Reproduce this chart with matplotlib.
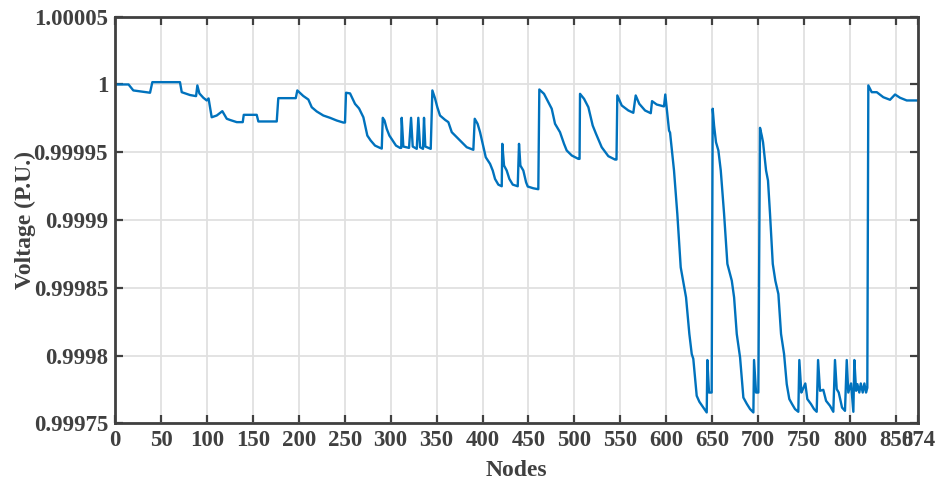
import numpy as np
import matplotlib
matplotlib.use("Agg")
from matplotlib import pyplot as plt

# node index / voltage deviation from 1.0 p.u. (in millionths)
nodes = [0, 14.7, 19.9, 38.1, 40.6, 70.7, 72.6, 81.6, 88.2, 89.6, 91.8, 96.1, 99.8, 101.8,
         105.2, 110.7, 116.8, 121.6, 125.2, 132.5, 139.0, 140.1, 154.2, 156.0, 176.0, 177.7,
         196.7, 198.4, 204.9, 210.4, 214.1, 219.5, 226.7, 234.0, 241.3, 248.5, 250.3, 251.4,
         255.8, 261.2, 265.6, 270.3, 274.6, 278.3, 283.0, 288.4, 290.3, 291.4, 293.3, 295.7,
         298.6, 302.2, 305.8, 310.2, 311.5, 312.0, 313.8, 320.0, 322.2, 324.0, 328.4, 330.1,
         332.0, 335.2, 336.3, 337.7, 343.6, 345.4, 348.3, 350.8, 353.7, 359.2, 362.8, 366.5,
         371.9, 377.4, 382.8, 390.0, 391.5, 394.6, 397.3, 400.2, 403.5, 408.2, 411.1, 413.6,
         417.2, 420.9, 421.5, 423.4, 426.3, 429.2, 432.9, 438.3, 439.7, 441.2, 444.4, 447.4,
         449.2, 455.3, 460.7, 461.8, 466.9, 471.6, 475.3, 478.9, 484.3, 488.7, 491.6, 497.1,
         504.3, 505.6, 506.1, 510.5, 515.2, 519.9, 523.5, 529.7, 536.9, 544.2, 545.8, 546.7,
         551.5, 558.7, 564.1, 566.7, 570.6, 576.9, 583.1, 584.5, 589.6, 597.5, 598.9, 603.0,
         604.1, 608.4, 612.0, 615.7, 621.5, 625.1, 627.7, 629.4, 633.1, 636.0, 641.4, 644.0,
         644.7, 646.5, 649.4, 650.5, 652.0, 654.1, 656.7, 659.3, 662.9, 666.5, 671.3, 673.8,
         676.7, 680.3, 683.9, 687.6, 691.2, 694.8, 695.5, 697.7, 700.2, 702.0, 703.9, 705.3,
         708.6, 710.7, 712.9, 715.9, 718.7, 722.0, 724.9, 728.2, 731.1, 733.9, 736.9, 740.1,
         743.7, 744.8, 747.0, 748.9, 751.3, 753.5, 757.5, 760.8, 763.7, 765.2, 767.3, 770.9,
         773.9, 778.2, 781.8, 783.6, 785.5, 787.7, 791.3, 794.5, 796.4, 798.1, 801.1, 803.6,
         804.7, 806.6, 808.0, 810.1, 811.7, 813.8, 815.6, 817.4, 818.8, 819.9, 823.6, 829.1,
         836.2, 843.5, 849.0, 854.4, 861.7, 874]
dev_ppm = [0, 0, -4.4, -6.1, 1.7, 1.7, -5.7, -7.8, -8.6, -0.7, -6.6, -9.8, -11.8, -10.3,
           -24.2, -22.9, -19.7, -25.3, -26.2, -27.8, -27.8, -22.4, -22.4, -27.3, -27.3, -10.1,
           -10.1, -4.4, -8.5, -11.1, -16.8, -19.9, -22.9, -24.6, -26.6, -28.1, -28.1, -6.1,
           -6.6, -14.3, -17.7, -24.2, -37.7, -41.4, -45.1, -46.8, -47.3, -24.6, -26.6, -32.7,
           -37.7, -41.4, -45.1, -46.8, -46.8, -24.6, -45.8, -46.8, -24.6, -45.8, -47.5, -24.6,
           -46.3, -47.5, -24.6, -45.8, -47.5, -4.4, -10.3, -16.8, -22.9, -26.1, -27.8, -35.2,
           -38.9, -42.6, -46.3, -48.2, -25.3, -29.0, -35.2, -43.8, -53.7, -58.6, -63.5, -69.7,
           -73.9, -75.1, -43.8, -59.8, -63.5, -69.7, -73.9, -75.1, -43.8, -59.8, -63.5, -72.2,
           -75.3, -76.6, -77.3, -3.7, -6.9, -13.1, -17.9, -29.0, -35.2, -43.8, -48.7, -52.4,
           -54.9, -54.9, -6.9, -10.6, -16.8, -30.3, -36.4, -46.3, -52.9, -55.4, -55.4, -8.1,
           -15.5, -19.2, -20.9, -8.1, -14.3, -19.2, -21.2, -12.3, -14.8, -16.2, -7.4, -34.0,
           -35.5, -63.5, -95.5, -134.9, -157.1, -184.1, -198.9, -202.4, -229.7, -234.1, -239.5, -242.0,
           -203.3, -227.3, -227.3, -17.9, -30.3, -42.6, -48.7, -63.5, -95.5, -132.4, -144.8, -157.1,
           -184.1, -201.4, -231.0, -235.6, -239.5, -242.0, -203.3, -227.3, -227.3, -32.0, -37.7, -42.6,
           -63.5, -70.9, -95.5, -132.4, -144.8, -154.6, -184.1, -198.9, -221.1, -232.1, -235.8, -239.5,
           -241.5, -203.3, -227.3, -224.5, -220.6, -232.1, -235.8, -239.5, -241.5, -203.3, -226.0, -225.3,
           -233.4, -237.1, -241.5, -203.3, -224.8, -227.3, -238.4, -240.8, -203.3, -227.3, -220.6, -241.5,
           -203.3, -226.0, -221.1, -227.3, -220.6, -227.3, -220.6, -227.3, -223.8, -0.7, -5.7, -5.7,
           -9.4, -11.3, -7.4, -9.8, -11.8, -11.8]
voltage = 1.0 + np.array(dev_ppm) * 1e-6

xtick_vals = [0, 50, 100, 150, 200, 250, 300, 350, 400, 450, 500, 550, 600, 650, 700, 750, 800, 850, 874]
ytick_vals = [0.99975, 0.9998, 0.99985, 0.9999, 0.99995, 1.0, 1.00005]
ytick_labels = ['0.99975', '0.9998', '0.99985', '0.9999', '0.99995', '1', '1.00005']

txt = '#404040'
plt.rcParams['font.family'] = ['Liberation Serif', 'DejaVu Serif']
plt.rcParams['font.weight'] = 'bold'

fig = plt.figure(figsize=(9.36, 4.84), dpi=100)
ax = fig.add_axes([0.1229, 0.1254, 0.8579, 0.8401])

ax.plot(nodes, voltage, color='#0072BD', linewidth=1.7)

ax.set_xlim(0, 874)
ax.set_ylim(0.99975, 1.00005)
ax.set_xticks(xtick_vals)
ax.set_xticklabels([str(v) for v in xtick_vals])
ax.set_yticks(ytick_vals)
ax.set_yticklabels(ytick_labels)
ax.grid(True, color='#e0e0e0', linewidth=1.3)
ax.set_axisbelow(True)

for s in ax.spines.values():
    s.set_color(txt)
    s.set_linewidth(2.0)
ax.tick_params(direction='in', length=6, width=1.6, colors=txt, labelsize=16.5,
               top=True, right=True, pad=5)
for lab in ax.get_xticklabels() + ax.get_yticklabels():
    lab.set_fontweight('bold')

ax.set_xlabel('Nodes', fontsize=17, fontweight='bold', color=txt, labelpad=6)
ax.set_ylabel('Voltage (P.U.)', fontsize=17, fontweight='bold', color=txt, labelpad=-2)

fig.savefig('out.png', dpi=100)
